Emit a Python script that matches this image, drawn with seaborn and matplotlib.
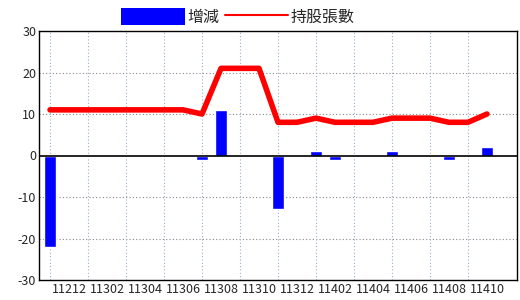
import matplotlib
matplotlib.use("Agg")
import matplotlib.pyplot as plt
import seaborn as sns
import pandas as pd
import numpy as np
from matplotlib.patches import Patch
from matplotlib.lines import Line2D

months = ["11211", "11212", "11301", "11302", "11303", "11304", "11305", "11306",
          "11307", "11308", "11309", "11310", "11311", "11312", "11401", "11402",
          "11403", "11404", "11405", "11406", "11407", "11408", "11409", "11410"]
change = [-22, 0, 0, 0, 0, 0, 0, 0, -1, 11, 0, 0, -13, 0, 1, -1, 0, 0, 1, 0, 0, -1, 0, 2]
holding = [11, 11, 11, 11, 11, 11, 11, 11, 10, 21, 21, 21, 8, 8, 9, 8, 8, 8, 9, 9, 9, 8, 8, 10]
yticks = [-30, -20, -10, 0, 10, 20, 30]

df = pd.DataFrame({"month": months, "change": change, "holding": holding,
                   "pos": np.arange(len(months))})

sns.set_style("white")
plt.rcParams["font.family"] = ["Noto Sans CJK TC", "DejaVu Sans"]

fig = plt.figure(figsize=(5.2, 3.0), dpi=100)
ax = fig.add_axes([39 / 520, 1 - 280 / 300, (517 - 39) / 520, (280 - 31) / 300])

# grid
for y in yticks[1:-1]:
    if y != 0:
        ax.axhline(y, color="#888888", linestyle=(0, (1, 2)), linewidth=0.8, zorder=0)
for i in range(0, len(months), 2):
    ax.axvline(i, color="#9ab0c8", linestyle=(0, (1, 2)), linewidth=0.8, zorder=0)

sns.barplot(data=df, x="month", y="change", color="#0000ff", saturation=1,
            width=0.65, ax=ax, zorder=2)
sns.lineplot(data=df, x="pos", y="holding", color="#ff0000", linewidth=4,
             ax=ax, zorder=3)
ax.axhline(0, color="black", linewidth=1.2, zorder=4)

ax.set_xlim(-0.58, 24.58)
ax.set_ylim(-30, 30)
ax.set_yticks(yticks)
ax.set_yticklabels([str(v) for v in yticks], fontsize=9)
ax.set_xticks(range(1, len(months), 2))
ax.set_xticklabels([months[i] for i in range(1, len(months), 2)], fontsize=9)
ax.tick_params(axis="both", length=0, pad=2)
ax.set_xlabel("")
ax.set_ylabel("")
for s in ax.spines.values():
    s.set_color("black")
    s.set_linewidth(1)

handles = [Patch(facecolor="#0000ff", edgecolor="none", label="增減"),
           Line2D([0], [0], color="#ff0000", linewidth=1.5, label="持股張數")]
fig.legend(handles=handles, loc="upper center", bbox_to_anchor=(0.458, 1.02), ncol=2,
           frameon=False, fontsize=11.5, handlelength=4.0, handleheight=1.2,
           handletextpad=0.15, columnspacing=0.3)

fig.savefig("out.png", dpi=100)
